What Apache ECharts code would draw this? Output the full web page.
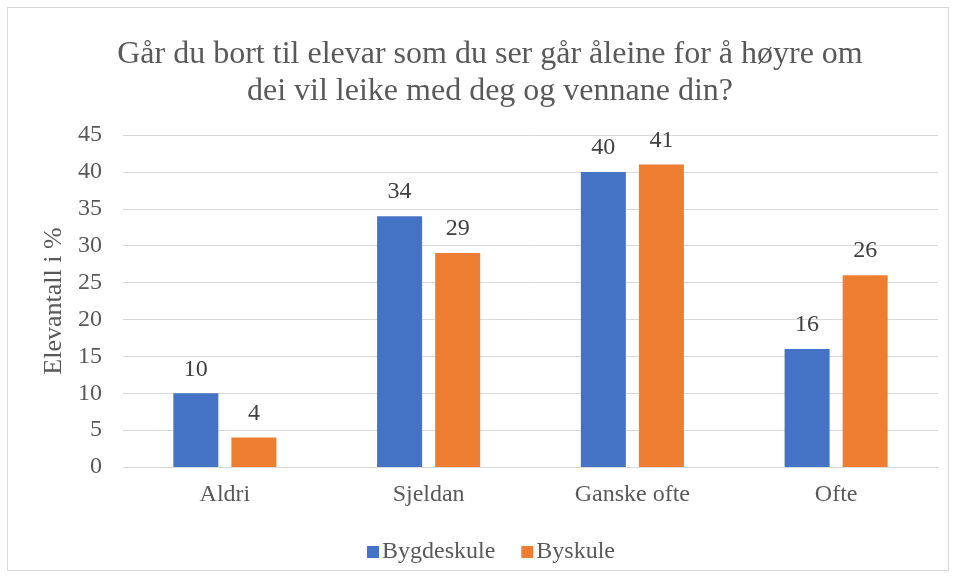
<!DOCTYPE html>
<html>
<head>
<meta charset="utf-8">
<script src="https://cdn.jsdelivr.net/npm/echarts@6/dist/echarts.min.js"></script>
<style>
html,body{margin:0;padding:0;background:#fff;}
#frame{position:absolute;left:7px;top:7px;width:942px;height:564px;border:1px solid #d9d9d9;box-sizing:border-box;}
#chart{position:absolute;left:0;top:0;width:957px;height:579px;}
</style>
</head>
<body>
<div id="frame"></div>
<div id="chart"></div>
<script>
const titleText = 'Går du bort til elevar som du ser går åleine for å høyre om\ndei vil leike med deg og vennane din?';
const categories = ['Aldri', 'Sjeldan', 'Ganske ofte', 'Ofte'];
const seriesNames = ['Bygdeskule', 'Byskule'];
const bygdeskule = [10, 34, 40, 16];
const byskule = [4, 29, 41, 26];
const yTicks = {min: 0, max: 45, interval: 5};

const font = '"Liberation Serif", "Times New Roman", serif';
const chart = echarts.init(document.getElementById('chart'), null, {renderer: 'canvas'});
chart.setOption({
  animation: false,
  backgroundColor: 'transparent',
  title: {
    text: titleText,
    left: 485,
    textAlign: 'center',
    top: 31,
    textStyle: {fontFamily: font, fontSize: 32, fontWeight: 'normal', color: '#595959', lineHeight: 37}
  },
  legend: {
    data: seriesNames,
    top: 535,
    left: 362,
    icon: 'rect',
    itemWidth: 12,
    itemHeight: 12,
    itemGap: 26,
    textStyle: {fontFamily: font, fontSize: 24, color: '#595959', padding: [0, 0, 0, -2]}
  },
  grid: {left: 123, right: 19, top: 135, bottom: 112, containLabel: false},
  xAxis: {
    type: 'category',
    data: categories,
    axisLine: {lineStyle: {color: '#d9d9d9', width: 1}},
    axisTick: {show: false},
    axisLabel: {fontFamily: font, fontSize: 24, color: '#595959', margin: 16}
  },
  yAxis: {
    type: 'value',
    min: yTicks.min, max: yTicks.max, interval: yTicks.interval,
    name: 'Elevantall i %',
    nameLocation: 'middle',
    nameRotate: 90,
    nameGap: 54,
    nameTextStyle: {fontFamily: font, fontSize: 26, color: '#595959'},
    axisLine: {show: false},
    axisTick: {show: false},
    splitLine: {lineStyle: {color: '#d9d9d9', width: 1}},
    axisLabel: {fontFamily: font, fontSize: 24, color: '#595959', margin: 21}
  },
  series: [
    {
      name: seriesNames[0], type: 'bar', data: bygdeskule,
      barWidth: 45, barGap: '29%',
      itemStyle: {color: '#4472C4'},
      label: {show: true, position: 'top', distance: 12, fontFamily: font, fontSize: 24, color: '#404040'}
    },
    {
      name: seriesNames[1], type: 'bar', data: byskule,
      barWidth: 45, barGap: '29%',
      itemStyle: {color: '#ED7D31'},
      label: {show: true, position: 'top', distance: 12, fontFamily: font, fontSize: 24, color: '#404040'}
    }
  ]
});
</script>
</body>
</html>
